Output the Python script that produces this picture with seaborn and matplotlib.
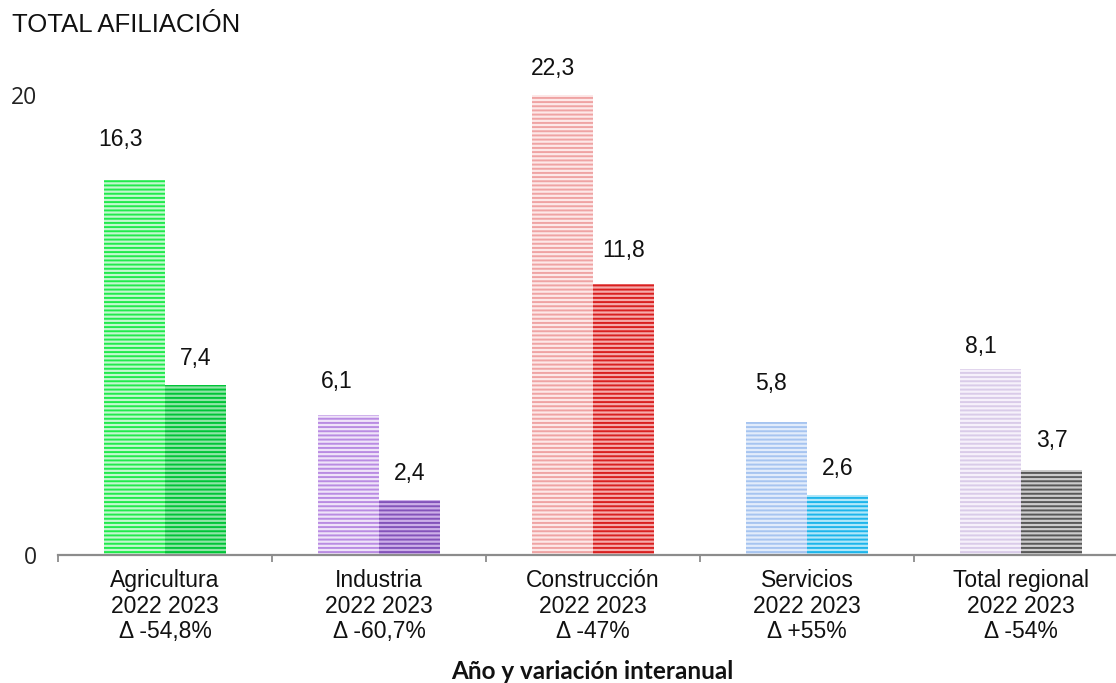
import matplotlib
matplotlib.use("Agg")
import matplotlib.pyplot as plt
import seaborn as sns
import pandas as pd

# ---- data ----
sectors = ["Agricultura", "Industria", "Construcción", "Servicios", "Total regional"]
years = ["2022", "2023"]
values_2022 = [16.3, 6.1, 22.3, 5.8, 8.1]
values_2023 = [7.4, 2.4, 11.8, 2.6, 3.7]
variation = ["-54,8%", "-60,7%", "-47%", "+55%", "-54%"]
yticks = [0, 20]

# ---- styles ----
face_2022 = ["#c2f8cf", "#efe3f9", "#fde8e8", "#e2ecfb", "#f6f1fb"]
hatch_2022 = ["#20ea4c", "#b98be2", "#efa3a3", "#a6c4f0", "#d9cbe9"]
face_2023 = ["#8fe4a6", "#ccaee8", "#f5aaaa", "#b0e7f9", "#cccccc"]
hatch_2023 = ["#00c437", "#8352ba", "#d91f1f", "#1db5eb", "#585858"]
lift_2022 = [41, 33, 26, 38, 22]      # px label centre above bar top
lift_2023 = [26, 26, 33, 27, 29]
shift_2022 = [-14, -12, -10, -6, -10]  # px horizontal label shift
shift_2023 = [0, 0, 0, 0, 0]

sns.set_theme(style="white")
plt.rcParams["font.family"] = ["Liberation Sans", "DejaVu Sans"]
plt.rcParams["hatch.linewidth"] = 1.4

df = pd.DataFrame({
    "sector": sectors * 2,
    "year": [years[0]] * len(sectors) + [years[1]] * len(sectors),
    "value": values_2022 + values_2023,
})

W, H = 1116, 683
fig = plt.figure(figsize=(W / 100, H / 100), dpi=100)
ax = fig.add_axes([58 / W, (H - 555) / H, 1070 / W, 460 / H])

sns.barplot(data=df, x="sector", y="value", hue="year", order=sectors,
            hue_order=years, width=0.57, legend=False, ax=ax, errorbar=None)

ax.set_ylim(0, 20)
ax.set_xlim(-0.5, len(sectors) - 0.5)

conts = ax.containers
for cont, faces, hatches, vals, lifts, shifts in [
        (conts[0], face_2022, hatch_2022, values_2022, lift_2022, shift_2022),
        (conts[1], face_2023, hatch_2023, values_2023, lift_2023, shift_2023)]:
    for bar, fc, hc, v, lift, sh in zip(cont, faces, hatches, vals, lifts, shifts):
        bar.set_facecolor(fc)
        bar.set_edgecolor(hc)
        bar.set_linewidth(0)
        bar.set_hatch("----")
        top = min(v, ax.get_ylim()[1])
        xc = bar.get_x() + bar.get_width() / 2
        ax.annotate(f"{v:.1f}".replace(".", ","), xy=(xc, top),
                    xytext=(sh * 0.72, lift * 0.72), textcoords="offset points",
                    ha="center", va="center", fontsize=16.5, color="#111111",
                    annotation_clip=False)

# axes styling
for s in ["top", "right", "left"]:
    ax.spines[s].set_visible(False)
ax.spines["bottom"].set_color("#8c8c8c")
ax.spines["bottom"].set_linewidth(1.6)

ax.set_xticks(range(len(sectors)))
ax.set_xticklabels([f"{s}\n2022 2023\nΔ {v}" for s, v in zip(sectors, variation)],
                   fontsize=16.5, color="#111111", linespacing=1.15)
ax.set_xticks([i - 0.5 for i in range(len(sectors) + 1)], minor=True)
ax.tick_params(axis="x", which="major", length=0, pad=10)
ax.tick_params(axis="x", which="minor", length=5, width=1.3, color="#8c8c8c",
               direction="out", bottom=True)

ax.set_yticks(yticks)
ax.set_yticklabels([str(t) for t in yticks], fontsize=16.5, color="#222222",
                   family=["Open Sans", "DejaVu Sans"])
ax.tick_params(axis="y", length=0, pad=15)
ax.set_xlabel("")
ax.set_ylabel("")

fig.text(12 / W, (H - 25) / H, "TOTAL AFILIACIÓN", fontsize=18.5,
         color="#111111", ha="left", va="center")
fig.text(592 / W, 4 / H, "Año y variación interanual", fontsize=17.5,
         fontweight="bold", color="#111111", ha="center", va="baseline",
         family=["Lato", "DejaVu Sans"])

fig.savefig("out.png", dpi=100)
